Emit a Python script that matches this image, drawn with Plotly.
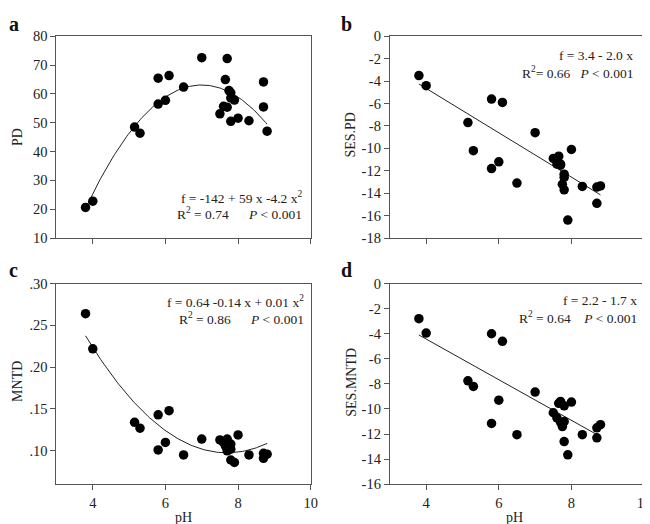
import numpy as np
import plotly.graph_objects as go

# ---------------- data ----------------
pH = [3.8, 4.0, 5.15, 5.3, 5.8, 5.8, 6.0, 6.1, 6.5, 7.0, 7.5, 7.6, 7.65, 7.7, 7.7,
      7.75, 7.8, 7.8, 7.8, 7.9, 8.0, 8.3, 8.7, 8.7, 8.8]

PD = [20.6, 22.8, 48.5, 46.4, 65.5, 56.5, 57.8, 66.4, 62.4, 72.6, 53.1, 55.7, 65.0, 72.3, 55.4,
      61.2, 60.4, 58.6, 50.5, 57.9, 51.6, 50.7, 64.2, 55.5, 47.1]

SES_PD = [-3.5, -4.4, -7.7, -10.2, -5.6, -11.8, -11.2, -5.9, -13.1, -8.6, -10.9, -11.4, -10.7, -11.5, -11.4,
          -13.2, -12.3, -12.6, -13.7, -16.4, -10.1, -13.4, -14.9, -13.45, -13.35]

MNTD = [0.264, 0.222, 0.134, 0.127, 0.143, 0.101, 0.110, 0.148, 0.095, 0.114, 0.113, 0.110, 0.106, 0.114, 0.100,
        0.104, 0.108, 0.089, 0.102, 0.086, 0.119, 0.095, 0.091, 0.097, 0.096]

SES_MNTD = [-2.8, -3.95, -7.75, -8.2, -4.0, -11.15, -9.3, -4.6, -12.05, -8.65, -10.3, -10.7, -9.55, -11.05, -9.4,
            -11.4, -9.75, -11.0, -12.6, -13.65, -9.45, -12.05, -12.3, -11.5, -11.25]

# linear fit lines as drawn in panels b and d (end points)
FIT_LINE_X = [3.8, 8.8]
FIT_B_Y = [-4.25, -14.15]
FIT_D_Y = [-4.1, -12.2]

X_TICKS = [4, 6, 8, 10]
PD_TICKS = [10, 20, 30, 40, 50, 60, 70, 80]
SES_PD_TICKS = [-18, -16, -14, -12, -10, -8, -6, -4, -2, 0]
MNTD_TICKS = [0.10, 0.15, 0.20, 0.25, 0.30]
MNTD_TICKTEXT = [".10", ".15", ".20", ".25", ".30"]
SES_MNTD_TICKS = [-16, -14, -12, -10, -8, -6, -4, -2, 0]

NB = "\u00a0"
panels = [
    dict(letter="a", y=PD, deg=2, fit=None, ytitle="PD", yrange=[10, 80],
         yticks=PD_TICKS, yticktext=[str(v) for v in PD_TICKS], xlabels=False,
         eq1="f = -142 + 59 x -4.2 x<sup>2</sup>",
         eq2="R<sup>2</sup> = 0.74" + NB * 6 + "<i>P</i> < 0.001"),
    dict(letter="b", y=SES_PD, deg=1, fit=FIT_B_Y, ytitle="SES.PD", yrange=[-18, 0],
         yticks=SES_PD_TICKS, yticktext=[str(v) for v in SES_PD_TICKS], xlabels=False,
         eq1="f = 3.4 - 2.0 x",
         eq2="R<sup>2</sup>= 0.66" + NB * 3 + "<i>P</i> < 0.001"),
    dict(letter="c", y=MNTD, deg=2, fit=None, ytitle="MNTD", yrange=[0.06, 0.30],
         yticks=MNTD_TICKS, yticktext=MNTD_TICKTEXT, xlabels=True,
         eq1="f = 0.64 -0.14 x + 0.01 x<sup>2</sup>",
         eq2="R<sup>2</sup> = 0.86" + NB * 6 + "<i>P</i> < 0.001"),
    dict(letter="d", y=SES_MNTD, deg=1, fit=FIT_D_Y, ytitle="SES.MNTD", yrange=[-16, 0],
         yticks=SES_MNTD_TICKS, yticktext=[str(v) for v in SES_MNTD_TICKS], xlabels=True,
         eq1="f = 2.2 - 1.7 x",
         eq2="R<sup>2</sup> = 0.64" + NB * 4 + "<i>P</i> < 0.001"),
]

# ---------------- layout geometry (pixels) ----------------
W, H = 650, 524
boxes = {  # left, right, top, bottom in px
    "a": (49, 306, 21, 229),
    "b": (386, 643, 21, 229),
    "c": (49, 306, 276, 483),
    "d": (386, 643, 276, 483),
}
letter_pos = {"a": (6, 8), "b": (342, 8), "c": (6, 262), "d": (342, 262)}
ytitle_pos = {"a": (9.5, 124.5), "b": (346, 122), "c": (9.5, 377), "d": (347, 378)}
eq_pos = {  # right edge, line1 y, line2 y
    "a": (299, 187, 204),
    "b": (634, 41, 58),
    "c": (301, 294, 312),
    "d": (638, 293, 311),
}
xtitle_x = {"c": 177, "d": 512}

FONT = "Liberation Serif"
AXC = "#555555"
TXT = "#222222"

def px(x):
    return x / W

def py(y):
    return 1 - y / H

fig = go.Figure()
annotations = []

for i, p in enumerate(panels, start=1):
    L, R, T, B = boxes[p["letter"]]
    xa = "xaxis" if i == 1 else f"xaxis{i}"
    ya = "yaxis" if i == 1 else f"yaxis{i}"
    xref = "x" if i == 1 else f"x{i}"
    yref = "y" if i == 1 else f"y{i}"

    if p["fit"] is None:
        # quadratic regression curve computed from the data
        coef = np.polyfit(pH, p["y"], p["deg"])
        xs = np.linspace(min(pH), max(pH), 120)
        ys = np.polyval(coef, xs)
    else:
        xs, ys = FIT_LINE_X, p["fit"]
    fig.add_trace(go.Scatter(x=xs, y=ys, mode="lines",
                             line=dict(color="#222222", width=1),
                             xaxis=xref, yaxis=yref, showlegend=False, hoverinfo="skip"))
    fig.add_trace(go.Scatter(x=pH, y=p["y"], mode="markers",
                             marker=dict(color="black", size=9.5, line=dict(width=0)),
                             xaxis=xref, yaxis=yref, showlegend=False))

    fig.layout[xa] = dict(domain=[px(L), px(R)], anchor=yref, range=[3, 10],
                          tickvals=X_TICKS, ticktext=[str(v) for v in X_TICKS],
                          showticklabels=p["xlabels"],
                          ticks="outside", ticklen=5, tickcolor=AXC, tickwidth=1,
                          showline=True, linecolor=AXC, linewidth=1, mirror=True,
                          showgrid=False, zeroline=False,
                          tickfont=dict(family=FONT, size=14.5, color=TXT))
    fig.layout[ya] = dict(domain=[py(B), py(T)], anchor=xref, range=p["yrange"],
                          tickvals=p["yticks"], ticktext=p["yticktext"],
                          ticks="outside", ticklen=5, tickcolor=AXC, tickwidth=1,
                          showline=True, linecolor=AXC, linewidth=1, mirror=True,
                          showgrid=False, zeroline=False,
                          tickfont=dict(family=FONT, size=14.5, color=TXT))

    # panel letter
    lx, ly = letter_pos[p["letter"]]
    annotations.append(dict(text=f"<b>{p['letter']}</b>", x=px(lx), y=py(ly), xref="paper", yref="paper",
                            xanchor="center", yanchor="middle", showarrow=False,
                            font=dict(family=FONT, size=20, color="#111")))
    # y title
    tx, ty = ytitle_pos[p["letter"]]
    annotations.append(dict(text=p["ytitle"], x=px(tx), y=py(ty),
                            xref="paper", yref="paper", textangle=-90,
                            xanchor="center", yanchor="middle", showarrow=False,
                            font=dict(family=FONT, size=14, color=TXT)))
    # equations
    ex, e1, e2 = eq_pos[p["letter"]]
    annotations.append(dict(text=p["eq1"], x=px(ex), y=py(e1), xref="paper", yref="paper",
                            xanchor="right", yanchor="middle", showarrow=False,
                            font=dict(family=FONT, size=13.5, color=TXT)))
    annotations.append(dict(text=p["eq2"], x=px(ex), y=py(e2), xref="paper", yref="paper",
                            xanchor="right", yanchor="middle", showarrow=False,
                            font=dict(family=FONT, size=13.5, color=TXT)))
    # x title
    if p["xlabels"]:
        annotations.append(dict(text="pH", x=px(xtitle_x[p["letter"]]), y=py(517), xref="paper", yref="paper",
                                xanchor="center", yanchor="middle", showarrow=False,
                                font=dict(family=FONT, size=14, color=TXT)))

fig.update_layout(width=W, height=H, margin=dict(l=0, r=0, t=0, b=0),
                  paper_bgcolor="white", plot_bgcolor="white",
                  annotations=annotations, showlegend=False)

fig.write_html("out.html")
